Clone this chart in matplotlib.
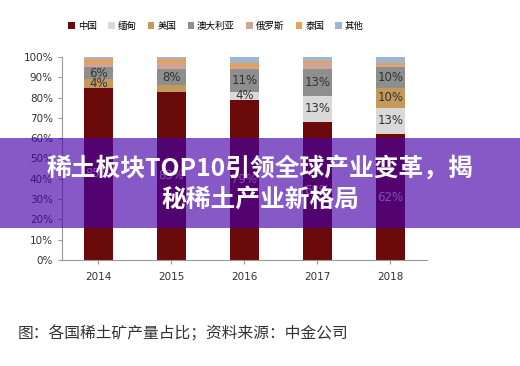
import matplotlib.pyplot as plt
from matplotlib.patches import Rectangle
import numpy as np

plt.rcParams['font.family'] = ['Noto Sans CJK SC', 'DejaVu Sans']

years = ['2014', '2015', '2016', '2017', '2018']
countries = ['中国', '缅甸', '美国', '澳大利亚', '俄罗斯', '泰国', '其他']
china = [85, 83, 79, 68, 62]
myanmar = [0, 0, 4, 13, 13]
usa = [4, 3, 0, 0, 10]
australia = [6, 8, 11, 13, 10]
russia = [2, 3, 1, 3, 1]
thailand = [2, 2, 2, 1, 1]
others = [1, 1, 3, 2, 3]

colors = ['#6a0a0a', '#d9d9d9', '#c49a5c', '#8e8e8e', '#d1a596', '#e8a058', '#9db6d3']
series = [china, myanmar, usa, australia, russia, thailand, others]

fig = plt.figure(figsize=(5.2, 3.66), dpi=100)
ax = fig.add_axes([0.119, 0.290, 0.702, 0.554])

x = np.arange(len(years))
bottom = np.zeros(len(years))
for name, vals, c in zip(countries, series, colors):
    vals = np.array(vals, dtype=float)
    ax.bar(x, vals, 0.4, bottom=bottom, color=c, label=name)
    for i, v in enumerate(vals):
        if v >= 4:
            tc = '#e6e6e6' if name == '中国' else '#333333'
            ax.text(x[i], bottom[i] + v / 2, f'{int(v)}%', ha='center', va='center',
                    fontsize=8.5, color=tc, family='DejaVu Sans')
    bottom += vals

ax.set_xlim(-0.5, 4.5)
ax.set_ylim(0, 100)
ax.set_xticks(x)
ax.set_xticklabels(years, fontsize=7.5, color='#333333', family='DejaVu Sans')
ax.set_yticks(np.arange(0, 101, 10))
ax.set_yticklabels([f'{v}%' for v in range(0, 101, 10)], fontsize=7.5, color='#333333',
                   family='DejaVu Sans')
ax.tick_params(length=3, color='#999999')
ax.tick_params(axis='x', pad=6)
for s in ['top', 'right']:
    ax.spines[s].set_visible(False)
for s in ['left', 'bottom']:
    ax.spines[s].set_color('#999999')

fig.legend(loc='upper left', bbox_to_anchor=(0.115, 0.965), ncol=7, fontsize=6.8,
           frameon=False, handlelength=0.7, handleheight=0.7, handletextpad=0.3,
           columnspacing=1.2)

fig.text(0.033, 0.087, '图：各国稀土矿产量占比；资料来源：中金公司', fontsize=11.3, color='#333333',
         va='center')

# overlay banner
fig.patches.append(Rectangle((0, 1 - 228 / 366), 1, 90 / 366, transform=fig.transFigure,
                             facecolor='#4700a8', alpha=0.65, zorder=5))
fig.text(0.5, 1 - 168 / 366, '稀土板块TOP10引领全球产业变革，揭', fontsize=17.8, color='white',
         weight='bold', ha='center', va='center', zorder=6)
fig.text(0.5, 1 - 200 / 366, '秘稀土产业新格局', fontsize=17.8, color='white',
         weight='bold', ha='center', va='center', zorder=6)

fig.savefig('out.png', dpi=100)
